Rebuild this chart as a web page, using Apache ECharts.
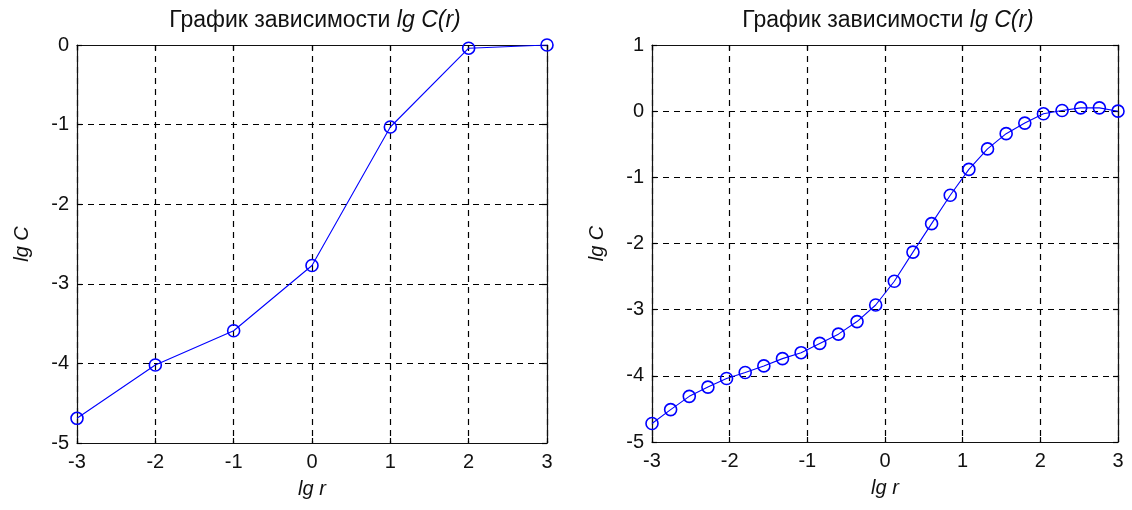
<!DOCTYPE html>
<html>
<head>
<meta charset="utf-8">
<script src="https://cdn.jsdelivr.net/npm/echarts@6/dist/echarts.min.js"></script>
<style>
  html, body { margin: 0; padding: 0; background: #fff; }
  #chart { width: 1132px; height: 510px; }
</style>
</head>
<body>
<div id="chart"></div>
<script>
// lg C versus lg r, coarse sampling (left panel)
const leftLgR = [-3, -2, -1, 0, 1, 2, 3];
const leftLgC = [-4.69, -4.02, -3.59, -2.77, -1.03, -0.04, 0];

// lg C versus lg r, fine sampling (right panel)
const rightLgR = [-3, -2.76, -2.52, -2.28, -2.04, -1.8, -1.56, -1.32, -1.08, -0.84, -0.6, -0.36, -0.12,
                  0.12, 0.36, 0.6, 0.84, 1.08, 1.32, 1.56, 1.8, 2.04, 2.28, 2.52, 2.76, 3];
const rightLgC = [-4.72, -4.51, -4.31, -4.17, -4.04, -3.95, -3.85, -3.74, -3.65, -3.51, -3.37, -3.18, -2.93,
                  -2.57, -2.13, -1.70, -1.27, -0.88, -0.57, -0.34, -0.18, -0.04, 0.01, 0.05, 0.05, 0.0];

const titleMain = 'График зависимости ';
const titleItalic = 'lg C(r)';
const xName = 'lg r';
const yName = 'lg C';

const FONT = '"Liberation Sans", Arial, sans-serif';
const BLUE = '#0000ff';

const pairs = (xs, ys) => xs.map((x, i) => [x, ys[i]]);

const gridLine = { show: true, lineStyle: { color: '#000', type: [6, 5], width: 1.2 } };
const boxLine = { show: true, onZero: false, lineStyle: { color: '#111', width: 1.2 } };
const tickIn = { show: true, inside: true, length: 5, lineStyle: { color: '#000', width: 1.2 } };
const labelStyle = { fontFamily: FONT, fontSize: 20, color: '#111' };
const nameStyle = { fontFamily: FONT, fontSize: 20, fontStyle: 'italic', color: '#111' };

function xAxes(gridIndex) {
  return [
    {
      type: 'value', gridIndex, position: 'bottom', min: -3, max: 3, interval: 1,
      axisLine: boxLine, axisTick: tickIn, splitLine: gridLine,
      axisLabel: Object.assign({ margin: 9 }, labelStyle),
      name: xName, nameLocation: 'middle', nameGap: 36, nameTextStyle: nameStyle
    },
    {
      type: 'value', gridIndex, position: 'top', min: -3, max: 3, interval: 1,
      axisLine: boxLine, axisTick: tickIn, splitLine: { show: false }, axisLabel: { show: false }
    }
  ];
}

function yAxes(gridIndex, min, max) {
  return [
    {
      type: 'value', gridIndex, position: 'left', min, max, interval: 1,
      axisLine: boxLine, axisTick: tickIn, splitLine: gridLine,
      axisLabel: Object.assign({ margin: 8 }, labelStyle),
      name: yName, nameLocation: 'middle', nameGap: 45, nameRotate: 90, nameTextStyle: nameStyle
    },
    {
      type: 'value', gridIndex, position: 'right', min, max, interval: 1,
      axisLine: boxLine, axisTick: tickIn, splitLine: { show: false }, axisLabel: { show: false }
    }
  ];
}

function title(centerX) {
  return {
    text: '{n|' + titleMain + '}{i|' + titleItalic + '}',
    left: centerX, top: 4, textAlign: 'center',
    textStyle: {
      fontWeight: 'normal',
      rich: {
        n: { fontFamily: FONT, fontSize: 23, fontWeight: 'normal', color: '#111' },
        i: { fontFamily: FONT, fontSize: 23, fontWeight: 'normal', fontStyle: 'italic', color: '#111' }
      }
    }
  };
}

function curve(xi, yi, data) {
  return {
    type: 'line', xAxisIndex: xi, yAxisIndex: yi, data,
    symbol: 'circle', symbolSize: 12,
    lineStyle: { color: BLUE, width: 1.1 },
    itemStyle: { color: 'rgba(0,0,0,0)', borderColor: BLUE, borderWidth: 1.6 },
    emphasis: { disabled: true }
  };
}

const chart = echarts.init(document.getElementById('chart'), null, { renderer: 'canvas' });
chart.setOption({
  animation: false,
  backgroundColor: '#fff',
  title: [title(310), title(883)],
  grid: [
    { left: 77, top: 45, width: 470, height: 398 },
    { left: 652, top: 45, width: 466, height: 397 }
  ],
  xAxis: [...xAxes(0), ...xAxes(1)],
  yAxis: [...yAxes(0, -5, 0), ...yAxes(1, -5, 1)],
  series: [
    curve(0, 0, pairs(leftLgR, leftLgC)),
    curve(2, 2, pairs(rightLgR, rightLgC))
  ]
});
</script>
</body>
</html>
